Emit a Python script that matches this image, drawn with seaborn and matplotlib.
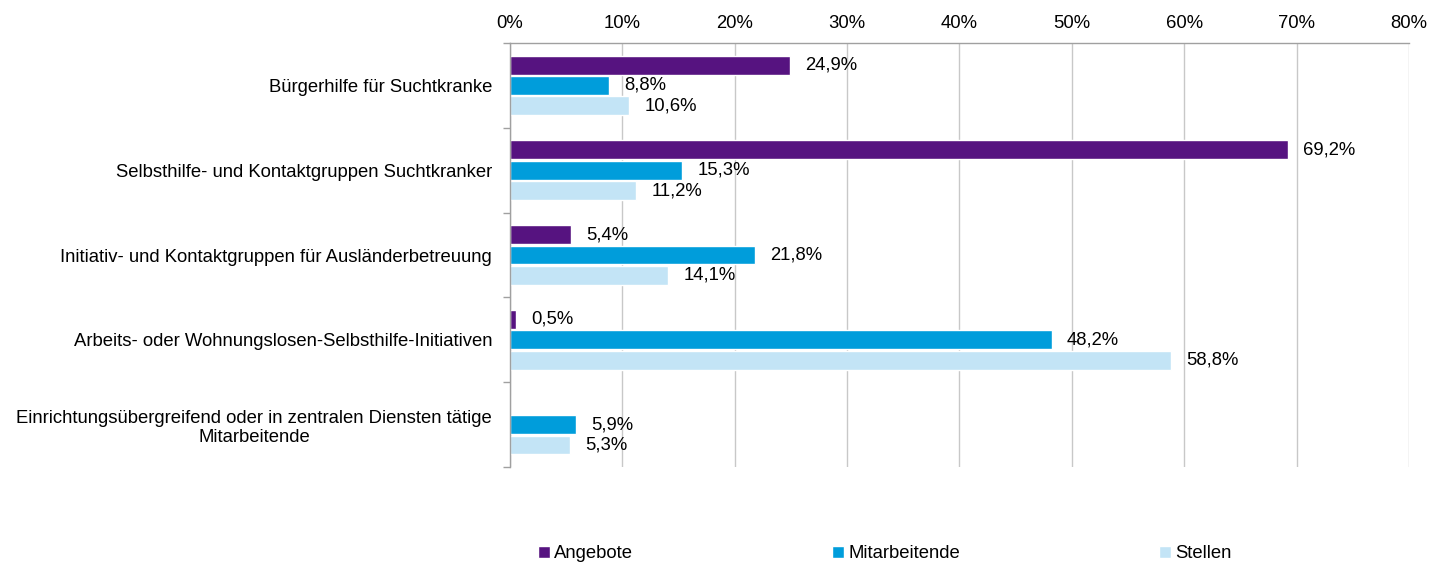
import numpy as np
import pandas as pd
import seaborn as sns
import matplotlib.pyplot as plt
from matplotlib.ticker import FixedLocator, PercentFormatter

categories = [
    "Bürgerhilfe für Suchtkranke",
    "Selbsthilfe- und Kontaktgruppen Suchtkranker",
    "Initiativ- und Kontaktgruppen für Ausländerbetreuung",
    "Arbeits- oder Wohnungslosen-Selbsthilfe-Initiativen",
    "Einrichtungsübergreifend oder in zentralen Diensten tätige\nMitarbeitende",
]
series = ["Angebote", "Mitarbeitende", "Stellen"]
angebote = [24.9, 69.2, 5.4, 0.5, np.nan]  # kein Wert für letzte Kategorie
mitarbeitende = [8.8, 15.3, 21.8, 48.2, 5.9]
stellen = [10.6, 11.2, 14.1, 58.8, 5.3]
colors = ["#561380", "#009DDB", "#C3E4F6"]

rows = []
for name, vals in zip(series, [angebote, mitarbeitende, stellen]):
    for cat, v in zip(categories, vals):
        rows.append({"Kategorie": cat, "Reihe": name, "Wert": v})
df = pd.DataFrame(rows)
df["Plot"] = df["Wert"].fillna(0)

sns.set_style("white")
plt.rcParams["font.family"] = ["Liberation Sans", "DejaVu Sans"]
plt.rcParams["font.size"] = 13.3
plt.rcParams["text.color"] = "black"
plt.rcParams["xtick.color"] = "black"
plt.rcParams["ytick.color"] = "black"

fig = plt.figure(figsize=(14.45, 5.62), dpi=100)
ax = fig.add_axes([0.353, 0.169, 0.622, 0.7545])

sns.barplot(data=df, y="Kategorie", x="Plot", hue="Reihe", order=categories,
            hue_order=series, palette=colors, orient="h", width=0.72, gap=0.07,
            saturation=1, ax=ax, legend=True)

for cont, name in zip(ax.containers, series):
    vals = df[df["Reihe"] == name]["Wert"].tolist()
    labs = ["" if np.isnan(v) else f"{v:.1f}%".replace(".", ",") for v in vals]
    ax.bar_label(cont, labels=labs, padding=11, fontsize=13.3, color="black")

ax.set_xlim(0, 80)
ax.set_xticks(np.arange(0, 81, 10))
ax.xaxis.set_major_formatter(PercentFormatter(decimals=0))
ax.xaxis.tick_top()
ax.tick_params(axis="x", length=0, pad=8, labelsize=13.3, labelcolor="black")
ax.grid(axis="x", color="#c8c8c8", linewidth=1)
ax.set_axisbelow(True)
ax.set_xlabel("")
ax.set_ylabel("")

ax.set_ylim(len(categories) - 0.5, -0.5)
ax.yaxis.set_minor_locator(FixedLocator(np.arange(-0.5, len(categories), 1)))
ax.tick_params(axis="y", which="major", left=False, length=0, pad=13,
               labelsize=13.3, labelcolor="black")
ax.tick_params(axis="y", which="minor", left=True, length=5, width=1,
               color="#a0a0a0", direction="out")
for t in ax.get_yticklabels():
    t.set_multialignment("center")

for s in ["right", "bottom"]:
    ax.spines[s].set_visible(False)
for s in ["top", "left"]:
    ax.spines[s].set_color("#a0a0a0")
    ax.spines[s].set_linewidth(1)

handles, labels = ax.get_legend_handles_labels()
ax.get_legend().remove()
fig.legend(handles, labels, loc="lower left", bbox_to_anchor=(0.361, -0.03),
           ncol=3, frameon=False, fontsize=13.3, handlelength=0.65,
           handleheight=0.65, handletextpad=0.2, columnspacing=10.8)

fig.savefig("out.png", dpi=100)
